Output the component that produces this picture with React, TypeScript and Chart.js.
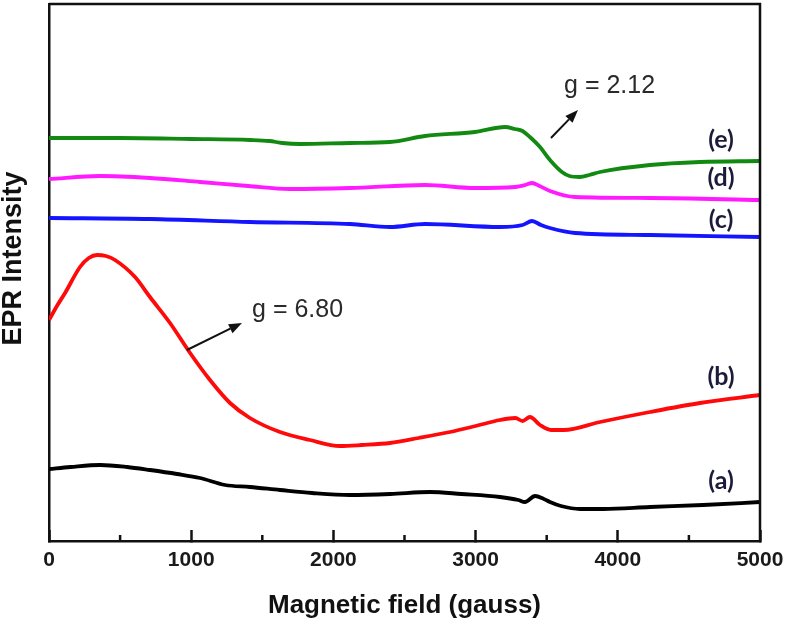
import React, { useEffect, useRef } from 'react';
import { Chart, registerables } from 'chart.js';
Chart.register(...registerables);

// ---- data (field in gauss, intensity in arbitrary units) ----
const fieldA = [0, 150, 359, 550, 710, 900, 1062, 1238, 1413, 1624, 1850, 2117, 2400, 2679, 2900, 3171, 3300, 3347, 3418, 3480, 3523, 3600, 3734, 3900, 4226, 4600, 5000];
const intensityA = [72, 74, 76, 74, 71, 67, 63, 56, 54, 51, 48, 46, 47, 49, 47, 44, 41, 39, 45, 42, 39, 35, 32, 32, 34, 36, 39];

const fieldB = [0, 60, 113, 218, 280, 338, 400, 464, 605, 710, 851, 992, 1132, 1273, 1413, 1624, 1835, 2046, 2200, 2398, 2600, 2820, 3000, 3171, 3280, 3330, 3382, 3453, 3530, 3620, 3875, 4226, 4578, 5000];
const intensityB = [221, 236, 248, 274, 283, 286, 285, 281, 264, 244, 218, 188, 161, 138, 123, 109, 101, 95, 96, 98, 103, 109, 115, 121, 123, 120, 124, 116, 111, 111, 119, 129, 138, 146];

const fieldC = [0, 710, 1413, 2117, 2398, 2644, 3171, 3330, 3397, 3460, 3523, 3699, 4226, 5000];
const intensityC = [323, 322, 319, 317, 314, 317, 314, 316, 320, 316, 313, 308, 306, 304];

const fieldD = [0, 359, 710, 1062, 1400, 1695, 2117, 2644, 2996, 3277, 3350, 3397, 3450, 3523, 3699, 4226, 5000];
const intensityD = [362, 365, 363, 359, 355, 352, 353, 356, 353, 354, 356, 358, 355, 350, 344, 343, 341];

const fieldE = [0, 500, 1000, 1413, 1550, 1640, 1765, 2117, 2398, 2644, 2996, 3207, 3277, 3330, 3382, 3453, 3523, 3607, 3660, 3734, 3800, 3875, 4226, 4578, 5000];
const intensityE = [403, 403, 402, 401, 400, 398, 397, 398, 399, 405, 409, 414, 412, 410, 404, 394, 381, 369, 365, 364, 366, 369, 376, 379, 380];

const seriesNames = ['(a)', '(b)', '(c)', '(d)', '(e)'];
const seriesColors = ['#000000', '#ff0a0a', '#1414ff', '#ff1aff', '#128a12'];
const xTickValues = [0, 1000, 2000, 3000, 4000, 5000];
const xMinorTicks = [500, 1500, 2500, 3500, 4500];
const xTitle = 'Magnetic field (gauss)';
const yTitle = 'EPR Intensity';

// annotation anchors in data space
const seriesLabelX = [4726, 4726, 4726, 4726, 4726];
const seriesLabelY = [60, 164, 321, 363, 401];
const gNotes = ['g = 6.80', 'g = 2.12'];
const gNoteX = [1428, 3622];
const gNoteY = [231, 455];
const arrowFrom = [[970, 191], [3530, 403]];
const arrowTo = [[1357, 218], [3720, 431]];

const toPts = (xs: number[], ys: number[]) => xs.map((x, i) => ({ x, y: ys[i] }));

const annotPlugin = {
  id: 'annot',
  afterDatasetsDraw(chart: any) {
    const { ctx, chartArea: a, scales } = chart;
    const x = scales.x, y = scales.y;
    ctx.save();
    ctx.strokeStyle = '#111';
    ctx.lineWidth = 2.5;
    // minor ticks (inward)
    for (const v of xMinorTicks) {
      const px = x.getPixelForValue(v);
      ctx.beginPath();
      ctx.moveTo(px, a.bottom);
      ctx.lineTo(px, a.bottom - 6);
      ctx.stroke();
    }
    // top & right frame
    ctx.beginPath();
    ctx.moveTo(a.left, a.top);
    ctx.lineTo(a.right, a.top);
    ctx.lineTo(a.right, a.bottom);
    ctx.stroke();

    // series labels
    ctx.fillStyle = '#1c1c3a';
    ctx.font = 'bold 25px Lato, "Open Sans", sans-serif';
    ctx.textAlign = 'center';
    ctx.textBaseline = 'middle';
    seriesNames.forEach((t, i) => {
      ctx.fillText(t, x.getPixelForValue(seriesLabelX[i]), y.getPixelForValue(seriesLabelY[i]));
    });

    // g notes
    ctx.fillStyle = '#2a2a2a';
    ctx.font = '25px "Liberation Sans", Arial, sans-serif';
    ctx.textAlign = 'left';
    gNotes.forEach((t, i) => {
      ctx.fillText(t, x.getPixelForValue(gNoteX[i]), y.getPixelForValue(gNoteY[i]));
    });

    // arrows
    ctx.strokeStyle = '#111';
    ctx.fillStyle = '#111';
    ctx.lineWidth = 2;
    arrowFrom.forEach((f, i) => {
      const x1 = x.getPixelForValue(f[0]), y1 = y.getPixelForValue(f[1]);
      const x2 = x.getPixelForValue(arrowTo[i][0]), y2 = y.getPixelForValue(arrowTo[i][1]);
      const ang = Math.atan2(y2 - y1, x2 - x1);
      const hl = 13, hw = 5;
      const bx = x2 - hl * Math.cos(ang), by = y2 - hl * Math.sin(ang);
      ctx.beginPath();
      ctx.moveTo(x1, y1);
      ctx.lineTo(bx, by);
      ctx.stroke();
      ctx.beginPath();
      ctx.moveTo(x2, y2);
      ctx.lineTo(bx + hw * Math.sin(ang), by - hw * Math.cos(ang));
      ctx.lineTo(bx - hw * Math.sin(ang), by + hw * Math.cos(ang));
      ctx.closePath();
      ctx.fill();
    });

    // y title
    ctx.save();
    ctx.translate(14, (a.top + a.bottom) / 2 - 14);
    ctx.rotate(-Math.PI / 2);
    ctx.fillStyle = '#111';
    ctx.font = 'bold 27px "Liberation Sans", Arial, sans-serif';
    ctx.textAlign = 'center';
    ctx.textBaseline = 'middle';
    ctx.fillText(yTitle, 0, 0);
    ctx.restore();

    ctx.restore();
  },
};

export default function App() {
  const ref = useRef<HTMLCanvasElement | null>(null);
  useEffect(() => {
    if (!ref.current) return;
    const series = [
      toPts(fieldA, intensityA),
      toPts(fieldB, intensityB),
      toPts(fieldC, intensityC),
      toPts(fieldD, intensityD),
      toPts(fieldE, intensityE),
    ];
    const chart = new Chart(ref.current, {
      type: 'line',
      data: {
        datasets: series.map((d, i) => ({
          label: seriesNames[i],
          data: d,
          borderColor: seriesColors[i],
          borderWidth: 3.8,
          pointRadius: 0,
          fill: false,
          cubicInterpolationMode: 'monotone' as const,
        })),
      },
      options: {
        animation: false,
        responsive: false,
        maintainAspectRatio: false,
        layout: { padding: { top: 4, right: 27, left: 0, bottom: 0 } },
        plugins: { legend: { display: false }, tooltip: { enabled: false } },
        scales: {
          x: {
            type: 'linear',
            min: 0,
            max: 5000,
            afterFit: (s: any) => { s.height = 78; s.paddingLeft = 0; s.paddingRight = 0; },
            afterBuildTicks: (s: any) => { s.ticks = xTickValues.map((v) => ({ value: v })); },
            ticks: {
              autoSkip: false,
              maxRotation: 0,
              padding: 18,
              color: '#1a1a1a',
              font: { family: '"Liberation Sans", Arial, sans-serif', size: 21, weight: 'bold' },
              callback: (v: any) => String(v),
            },
            grid: { drawOnChartArea: false, drawTicks: true, tickLength: -11, tickWidth: 2.5, tickColor: '#111' },
            border: { display: true, width: 2.5, color: '#111' },
            title: {
              display: true,
              text: xTitle,
              color: '#111',
              padding: { top: 0, bottom: 0 },
              font: { family: '"Liberation Sans", Arial, sans-serif', size: 26, weight: 'bold', lineHeight: 1 },
            },
          },
          y: {
            type: 'linear',
            min: 0,
            max: 537,
            afterFit: (s: any) => { s.width = 49; s.paddingTop = 0; s.paddingBottom = 0; },
            ticks: { display: false },
            grid: { display: false },
            border: { display: true, width: 2.5, color: '#111' },
          },
        },
      },
      plugins: [annotPlugin],
    });
    return () => chart.destroy();
  }, []);
  return (
    <div style={{ position: 'absolute', left: 0, top: 0, width: 787, height: 619, background: '#fff' }}>
      <canvas ref={ref} width={787} height={619} style={{ width: 787, height: 619, display: 'block' }} />
    </div>
  );
}
